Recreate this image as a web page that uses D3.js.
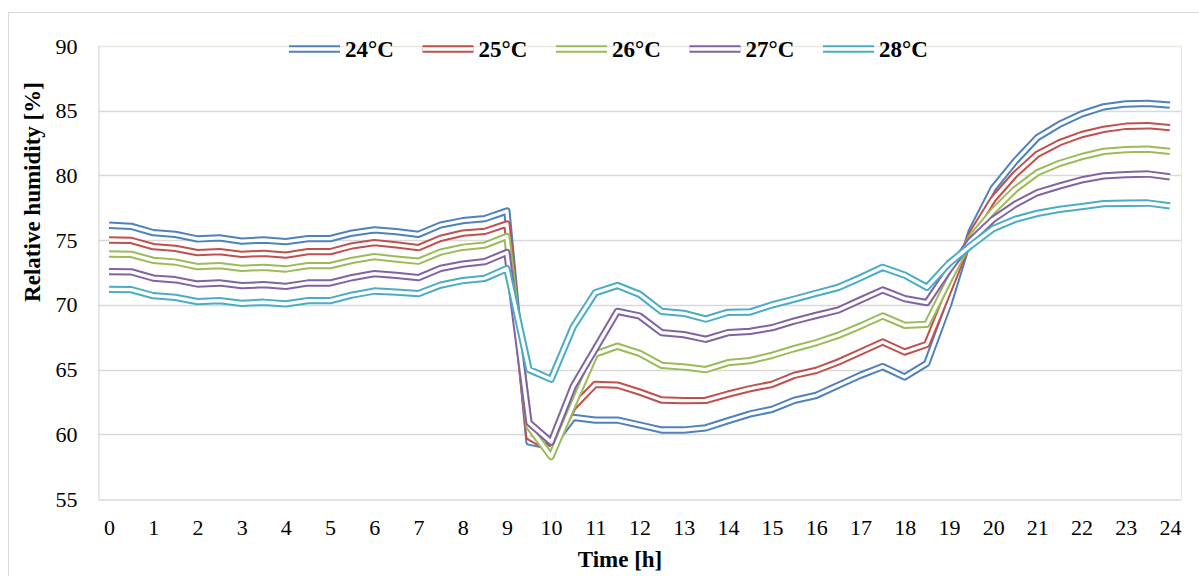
<!DOCTYPE html>
<html>
<head>
<meta charset="utf-8">
<script src="https://cdn.jsdelivr.net/npm/d3@7"></script>
<style>
  body { margin: 0; background: #fff; }
  svg { display: block; }
  svg text { font-family: "Liberation Serif", "Times New Roman", serif !important; }
</style>
</head>
<body>
<svg></svg>
<script>
// half hour steps on the x axis
var hours = [0, 0.5, 1, 1.5, 2, 2.5, 3, 3.5, 4, 4.5, 5, 5.5, 6, 6.5, 7, 7.5, 8, 8.5,
             9, 9.5, 10, 10.5, 11, 11.5, 12, 12.5, 13, 13.5, 14, 14.5, 15, 15.5, 16, 16.5,
             17, 17.5, 18, 18.5, 19, 19.5, 20, 20.5, 21, 21.5, 22, 22.5, 23, 23.5, 24]
var hourLabels = [0, 1, 2, 3, 4, 5, 6, 7, 8, 9, 10, 11, 12, 13, 14, 15, 16, 17, 18, 19, 20, 21, 22, 23, 24]
var humidityTicks = [55, 60, 65, 70, 75, 80, 85, 90]

var seriesNames = ['24°C', '25°C', '26°C', '27°C', '28°C']
var seriesColors = ['#4F81BD', '#C0504D', '#9BBB59', '#8064A2', '#4BACC6']

var rh24 = [76.15, 76.07, 75.58, 75.45, 75.09, 75.17, 74.93, 75.01, 74.88, 75.12, 75.12, 75.55, 75.8,
            75.65, 75.45, 76.17, 76.5, 76.66, 77.25, 59.4, 59.04, 61.3, 61.1, 61.1, 60.72, 60.33,
            60.33, 60.5, 61.05, 61.57, 61.93, 62.62, 63.01, 63.79, 64.56, 65.23, 64.43, 65.48,
            70.1, 75.65, 79.0, 81.1, 82.92, 83.95, 84.75, 85.3, 85.52, 85.57, 85.43]
var rh25 = [75.01, 74.98, 74.5, 74.37, 74.03, 74.11, 73.9, 73.98, 73.85, 74.11, 74.11, 74.56, 74.81,
            74.63, 74.42, 75.14, 75.54, 75.68, 76.25, 59.8, 58.8, 62.1, 63.86, 63.8, 63.27, 62.65,
            62.6, 62.62, 63.1, 63.52, 63.86, 64.56, 64.94, 65.59, 66.36, 67.13, 66.36, 66.95,
            71.15, 75.4, 78.16, 80.09, 81.63, 82.53, 83.15, 83.56, 83.8, 83.84, 83.7]
var rh26 = [73.93, 73.9, 73.44, 73.31, 72.95, 73.03, 72.82, 72.9, 72.77, 73.03, 73.03, 73.44, 73.72,
            73.54, 73.37, 74.08, 74.45, 74.62, 75.28, 60.6, 58.27, 62.3, 66.2, 66.8, 66.26, 65.33,
            65.2, 65.0, 65.53, 65.69, 66.1, 66.62, 67.08, 67.65, 68.37, 69.14, 68.42, 68.5,
            71.9, 75.2, 77.25, 78.93, 80.21, 80.93, 81.45, 81.86, 82.0, 82.04, 81.86]
var rh27 = [72.57, 72.55, 72.07, 71.94, 71.61, 71.69, 71.48, 71.56, 71.43, 71.69, 71.69, 72.11, 72.41,
            72.28, 72.1, 72.82, 73.15, 73.34, 74.05, 60.9, 59.4, 63.7, 66.6, 69.5, 69.14, 67.85,
            67.7, 67.34, 67.85, 67.95, 68.24, 68.75, 69.19, 69.6, 70.38, 71.15, 70.48, 70.17,
            72.7, 75.0, 76.61, 77.77, 78.67, 79.18, 79.65, 79.96, 80.06, 80.11, 79.88]
var rh28 = [71.2, 71.17, 70.71, 70.58, 70.25, 70.32, 70.12, 70.2, 70.07, 70.32, 70.32, 70.76, 71.07,
            70.99, 70.87, 71.53, 71.88, 72.05, 72.8, 65.0, 64.25, 68.3, 70.94, 71.5, 70.82, 69.5,
            69.35, 68.9, 69.42, 69.45, 70.0, 70.44, 70.9, 71.35, 72.1, 72.9, 72.3, 71.36,
            73.2, 74.6, 75.89, 76.61, 77.07, 77.38, 77.59, 77.82, 77.85, 77.87, 77.64]
var seriesValues = [rh24, rh25, rh26, rh27, rh28]

function main() {
    var svgWidth = 1199, svgHeight = 576
    var plotLeft = 98, plotRight = 1181, plotTop = 46, plotBottom = 499
    var outerWidth = 7.3, gapWidth = 3.3

    var svg = d3.select('svg').attr('width', svgWidth).attr('height', svgHeight)

    // chart frame
    svg.append('rect')
        .attr('x', 8.5).attr('y', 12.5)
        .attr('width', 1300).attr('height', 700)
        .attr('fill', '#fff').attr('stroke', '#d9d9d9')

    // scales: category axis with a point per half hour
    var xScale = d3.scalePoint()
                    .domain(hours)
                    .range([plotLeft, plotRight])
                    .padding(0.5)
    var yScale = d3.scaleLinear()
                    .domain([55, 90])
                    .range([plotBottom, plotTop])

    // horizontal gridlines
    svg.append('g')
        .selectAll('line')
        .data(humidityTicks.slice(1, -1))
        .enter().append('line')
        .attr('x1', plotLeft).attr('x2', plotRight)
        .attr('y1', function(d) {return Math.round(yScale(d)) + 0.5})
        .attr('y2', function(d) {return Math.round(yScale(d)) + 0.5})
        .attr('stroke', '#d9d9d9').attr('stroke-width', 1.3)

    // plot area border top and right
    svg.append('path')
        .attr('d', `M${plotLeft},${Math.round(yScale(90)) + 0.5}H${plotRight + 0.5}V${plotBottom}`)
        .attr('fill', 'none').attr('stroke', '#e9e7de').attr('stroke-width', 1.3)

    // y axis
    var yAxis = d3.axisLeft(yScale)
                    .tickValues(humidityTicks)
                    .tickSize(0)
                    .tickPadding(21)
    var yG = svg.append('g')
        .attr('transform', `translate(${plotLeft + 0.5},0)`)
        .call(yAxis)
        .attr('font-family', null)
    yG.select('.domain').attr('stroke', '#d9d9d9').attr('stroke-width', 1.3)
    yG.selectAll('text').attr('font-size', 22).attr('fill', '#000')

    // x axis, labels on the whole hours only
    var xAxis = d3.axisBottom(xScale)
                    .tickValues(hourLabels)
                    .tickSize(0)
                    .tickPadding(20)
                    .tickFormat(function(d) {return d})
    var xG = svg.append('g')
        .attr('transform', `translate(0,${plotBottom + 0.5})`)
        .call(xAxis)
        .attr('font-family', null)
    xG.select('.domain').attr('stroke', '#d9d9d9').attr('stroke-width', 1.3)
    xG.selectAll('text').attr('font-size', 22).attr('fill', '#000')

    // double lines: coloured wide stroke with a white core
    var line = d3.line()
                    .x(function(d, i) {return xScale(hours[i])})
                    .y(function(d) {return yScale(d)})

    var group = svg.selectAll('g.series')
                    .data(seriesValues)
                    .enter().append('g')
                    .attr('class', 'series')
    group.append('path')
        .attr('d', line)
        .attr('fill', 'none')
        .attr('stroke', function(d, i) {return seriesColors[i]})
        .attr('stroke-width', outerWidth)
        .attr('stroke-linejoin', 'round')
    group.append('path')
        .attr('d', line)
        .attr('fill', 'none')
        .attr('stroke', '#fff')
        .attr('stroke-width', gapWidth)
        .attr('stroke-linejoin', 'round')

    // legend
    var legend = svg.selectAll('g.legend')
                    .data(seriesNames)
                    .enter().append('g')
                    .attr('class', 'legend')
                    .attr('transform', function(d, i) {return `translate(${289 + i * 133.5}, 49)`})
    legend.append('line')
        .attr('x1', 0).attr('x2', 51)
        .attr('stroke', function(d, i) {return seriesColors[i]})
        .attr('stroke-width', outerWidth)
    legend.append('line')
        .attr('x1', 0).attr('x2', 51)
        .attr('stroke', '#fff')
        .attr('stroke-width', gapWidth)
    legend.append('text')
        .attr('x', 56)
        .attr('dy', '0.35em')
        .attr('font-size', 23)
        .attr('font-weight', 'bold')
        .text(function(d) {return d})

    // axis titles
    svg.append('text')
        .attr('transform', 'translate(40,192) rotate(-90)')
        .attr('text-anchor', 'middle')
        .attr('font-size', 23)
        .attr('font-weight', 'bold')
        .text('Relative humidity [%]')
    svg.append('text')
        .attr('x', 620).attr('y', 567)
        .attr('text-anchor', 'middle')
        .attr('font-size', 23)
        .attr('font-weight', 'bold')
        .text('Time [h]')
}

main()
</script>
</body>
</html>
